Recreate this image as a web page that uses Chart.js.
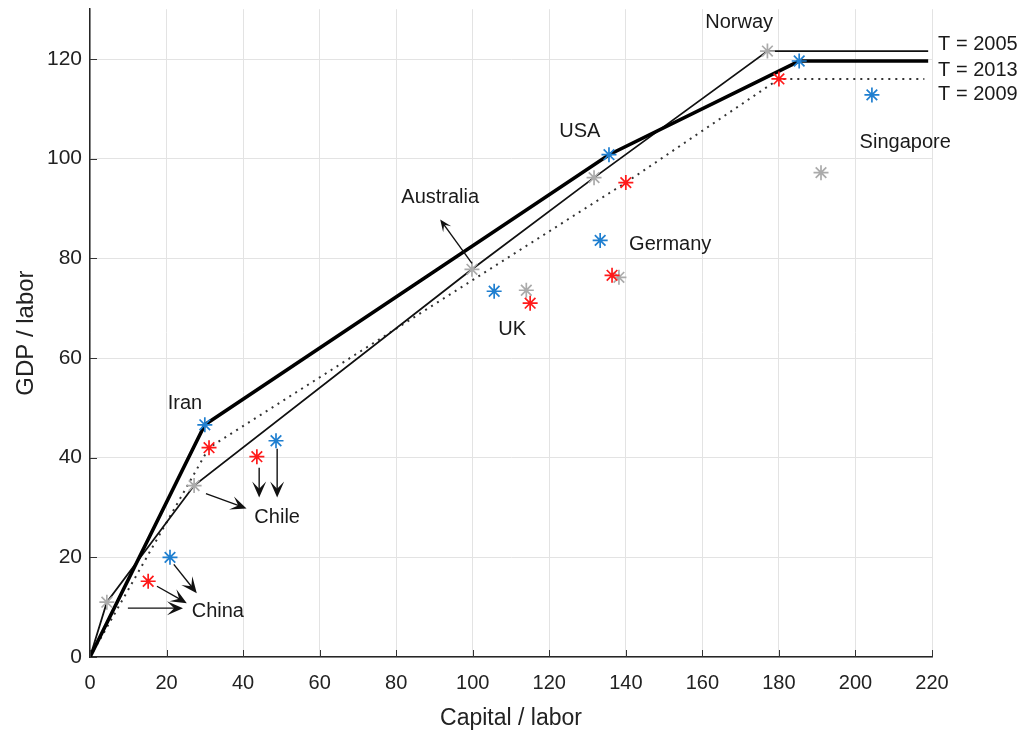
<!DOCTYPE html>
<html>
<head>
<meta charset="utf-8">
<script src="https://cdn.jsdelivr.net/npm/chart.js@4.4.1/dist/chart.umd.min.js"></script>
<style>
  html, body { margin: 0; padding: 0; background: #fff; }
  #wrap { width: 1029px; height: 736px; position: relative; }
</style>
</head>
<body>
<div id="wrap"><canvas id="frontierChart"></canvas></div>
<script>
// country observations (capital/labor, GDP/labor)
const names2005 = ['China', 'Chile', 'Australia', 'USA', 'Norway', 'UK', 'Germany', 'Singapore'];
const cap2005 = [4.4, 27.2, 99.8, 131.7, 177.0, 114.0, 138.2, 191.0];
const gdp2005 = [11.0, 34.4, 77.8, 96.2, 121.6, 73.6, 76.2, 97.2];

const names2009 = ['China', 'Iran', 'Chile', 'UK', 'Germany', 'USA', 'Norway'];
const cap2009 = [15.2, 31.1, 43.6, 115.0, 136.4, 140.0, 180.0];
const gdp2009 = [15.2, 42.0, 40.2, 71.0, 76.6, 95.2, 116.0];

const names2013 = ['China', 'Iran', 'Chile', 'UK', 'Germany', 'USA', 'Norway', 'Singapore'];
const cap2013 = [20.9, 30.0, 48.6, 105.6, 133.3, 135.6, 185.3, 204.3];
const gdp2013 = [20.0, 46.6, 43.4, 73.4, 83.6, 100.8, 119.6, 112.8];

// frontiers per year
const frontCap2005 = [0, 4.4, 27.2, 99.8, 131.7, 177.0, 219];
const frontGdp2005 = [0, 11.0, 34.4, 77.8, 96.2, 121.6, 121.6];
const frontCap2009 = [0, 31.1, 140.0, 180.0, 218];
const frontGdp2009 = [0, 42.0, 95.2, 116.0, 116.0];
const frontCap2013 = [0, 30.0, 135.6, 185.3, 219];
const frontGdp2013 = [0, 46.6, 100.8, 119.6, 119.6];

// annotations
const labelText = ['Iran', 'Chile', 'China', 'Australia', 'UK', 'USA', 'Germany', 'Norway', 'Singapore'];
const labelX = [24.8, 48.9, 33.4, 91.5, 110.3, 128.0, 151.6, 169.6, 213.0];
const labelY = [50.8, 28.0, 9.2, 92.2, 65.8, 105.4, 82.8, 127.4, 103.2];

const yearText = ['T = 2005', 'T = 2013', 'T = 2009'];
const yearY = [123.0, 117.8, 112.8];
const yearX = 221.6;

// arrows: from (x0,y0) to (x1,y1), head at the end
const arrowX0 = [99.8, 30.3, 44.2, 48.9, 9.9, 17.5, 21.9];
const arrowY0 = [79.0, 32.8, 38.0, 41.8, 9.8, 14.2, 18.6];
const arrowX1 = [91.5, 40.9, 44.2, 48.9, 24.3, 25.3, 27.9];
const arrowY1 = [87.8, 29.8, 32.0, 32.0, 9.8, 10.8, 12.8];
const arrowHeavy = [false, true, true, true, true, true, true];

const toPts = (xs, ys) => xs.map((x, i) => ({ x: x, y: ys[i] }));

const GRAY = '#ababab';
const RED = '#ff1a1a';
const BLUE = '#1f7fd0';

function markers(label, xs, ys, color) {
  return {
    label: label,
    data: toPts(xs, ys),
    showLine: false,
    pointStyle: 'star',
    pointRadius: 7.5,
    pointHoverRadius: 7.5,
    borderColor: color,
    backgroundColor: color,
    pointBorderWidth: 1.7,
    order: 0
  };
}

function frontier(label, xs, ys, width, dash, color) {
  return {
    label: label,
    data: toPts(xs, ys),
    showLine: true,
    pointRadius: 0,
    borderColor: color,
    borderWidth: width,
    borderDash: dash,
    fill: false,
    tension: 0,
    order: 1
  };
}

const annotate = {
  id: 'annotate',
  afterDatasetsDraw(chart) {
    const c = chart.ctx;
    const xs = chart.scales.x, ys = chart.scales.y;
    const area = chart.chartArea;
    c.save();

    // inward ticks, MATLAB style
    c.strokeStyle = '#333';
    c.lineWidth = 1;
    xs.ticks.forEach(t => {
      const px = Math.round(xs.getPixelForValue(t.value)) + 0.5;
      c.beginPath(); c.moveTo(px, area.bottom); c.lineTo(px, area.bottom - 7); c.stroke();
    });
    ys.ticks.forEach(t => {
      const py = Math.round(ys.getPixelForValue(t.value)) + 0.5;
      c.beginPath(); c.moveTo(area.left, py); c.lineTo(area.left + 7, py); c.stroke();
    });

    // arrows
    for (let i = 0; i < arrowX0.length; i++) {
      const x0 = xs.getPixelForValue(arrowX0[i]), y0 = ys.getPixelForValue(arrowY0[i]);
      const x1 = xs.getPixelForValue(arrowX1[i]), y1 = ys.getPixelForValue(arrowY1[i]);
      const ang = Math.atan2(y1 - y0, x1 - x0);
      const len = arrowHeavy[i] ? 16 : 12;
      const half = arrowHeavy[i] ? 7 : 5;
      c.strokeStyle = '#111';
      c.fillStyle = '#111';
      c.lineWidth = 1.4;
      c.beginPath(); c.moveTo(x0, y0); c.lineTo(x1 - Math.cos(ang) * 6, y1 - Math.sin(ang) * 6); c.stroke();
      const bx = x1 - Math.cos(ang) * len, by = y1 - Math.sin(ang) * len;
      const nx = -Math.sin(ang), ny = Math.cos(ang);
      const mx = x1 - Math.cos(ang) * len * 0.55, my = y1 - Math.sin(ang) * len * 0.55;
      c.beginPath();
      c.moveTo(x1, y1);
      c.lineTo(bx + nx * half, by + ny * half);
      c.lineTo(mx, my);
      c.lineTo(bx - nx * half, by - ny * half);
      c.closePath();
      c.fill();
    }

    // country labels
    c.fillStyle = '#1a1a1a';
    c.font = '20px "Liberation Sans", Arial, sans-serif';
    c.textAlign = 'center';
    c.textBaseline = 'middle';
    labelText.forEach((t, i) => {
      c.fillText(t, xs.getPixelForValue(labelX[i]), ys.getPixelForValue(labelY[i]));
    });

    // year labels to the right of the frontiers
    c.textAlign = 'left';
    yearText.forEach((t, i) => {
      c.fillText(t, xs.getPixelForValue(yearX), ys.getPixelForValue(yearY[i]));
    });
    c.restore();
  }
};

new Chart(document.getElementById('frontierChart'), {
  type: 'scatter',
  data: {
    datasets: [
      markers('2013', cap2013, gdp2013, BLUE),
      markers('2009', cap2009, gdp2009, RED),
      markers('2005', cap2005, gdp2005, GRAY),
      frontier('T = 2013', frontCap2013, frontGdp2013, 3.6, [], '#000'),
      frontier('T = 2005', frontCap2005, frontGdp2005, 1.8, [], '#111'),
      frontier('T = 2009', frontCap2009, frontGdp2009, 2, [2, 5], '#333')
    ]
  },
  options: {
    responsive: true,
    maintainAspectRatio: false,
    animation: false,
    layout: { padding: { top: 7, right: 97, left: 0, bottom: 0 } },
    plugins: {
      legend: { display: false },
      tooltip: { enabled: false }
    },
    scales: {
      x: {
        type: 'linear',
        min: 0,
        max: 220,
        ticks: {
          stepSize: 20,
          color: '#222',
          padding: 14,
          font: { family: '"Liberation Sans", Arial', size: 20 }
        },
        grid: { color: '#e3e3e3', lineWidth: 1, drawTicks: false },
        border: { color: '#262626', width: 1.5 },
        title: {
          display: true,
          text: 'Capital / labor',
          color: '#222',
          padding: { top: 0, bottom: 4 },
          font: { family: '"Liberation Sans", Arial', size: 23 }
        },
        afterFit: s => { s.height = 79; s.paddingLeft = 0; s.paddingRight = 0; }
      },
      y: {
        type: 'linear',
        min: 0,
        max: 130,
        afterBuildTicks: s => { s.ticks = s.ticks.filter(t => t.value % 20 === 0); },
        ticks: {
          stepSize: 20,
          color: '#222',
          padding: 8,
          font: { family: '"Liberation Sans", Arial', size: 21 }
        },
        grid: { color: '#e3e3e3', lineWidth: 1, drawTicks: false },
        border: { color: '#262626', width: 1.5 },
        title: {
          display: true,
          text: 'GDP / labor',
          color: '#222',
          padding: { top: 12, bottom: 0 },
          font: { family: '"Liberation Sans", Arial', size: 24 }
        },
        afterFit: s => { s.width = 90; s.paddingTop = 0; s.paddingBottom = 0; }
      }
    }
  },
  plugins: [annotate]
});
</script>
</body>
</html>
